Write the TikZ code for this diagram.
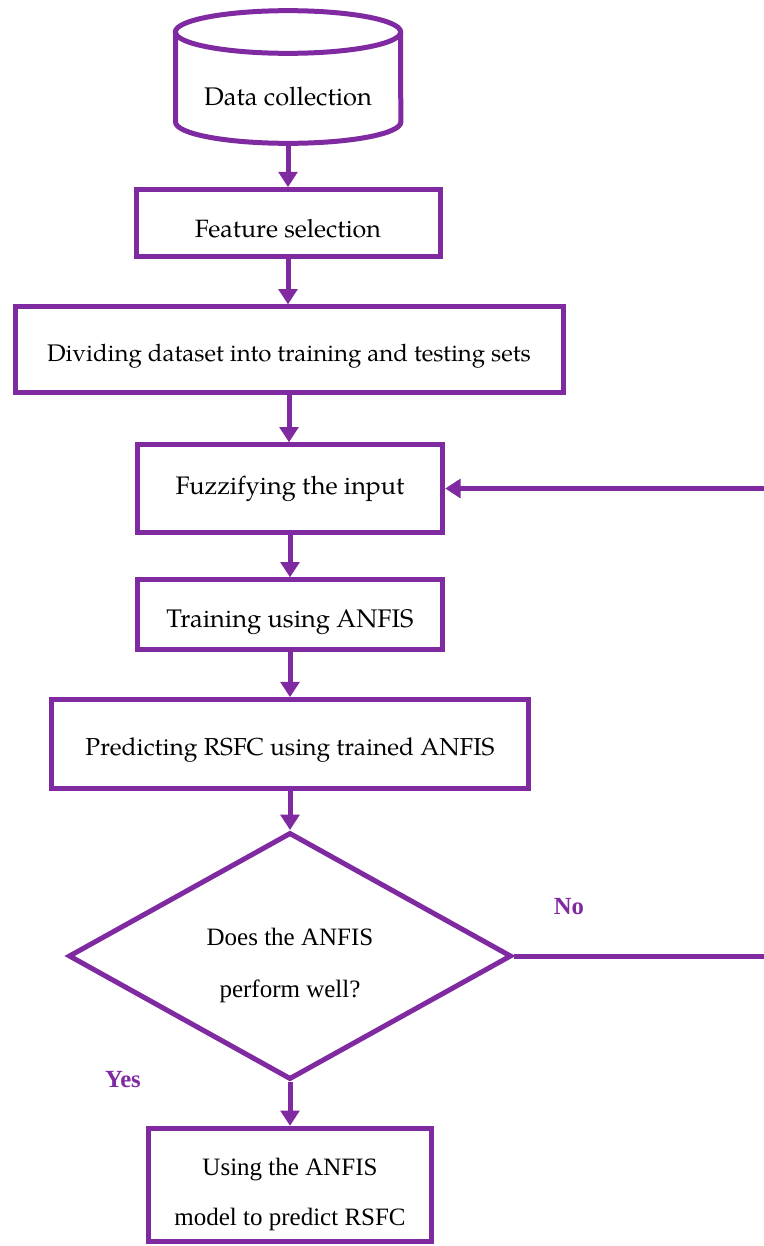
\documentclass[tikz,border=0pt]{standalone}
\usepackage{fontspec}
\setmainfont{TeX Gyre Pagella}
\newfontfamily\timesf{Liberation Serif}
\usetikzlibrary{arrows.meta,shapes.geometric}
\definecolor{pur}{HTML}{7F2AA1}
\newcommand{\dn}[2]{\raisebox{-#1}[\height][\depth]{#2}}
\newcommand{\twolines}[3]{\raisebox{-6.75pt}[\height][\depth]{\begin{tabular}{@{}c@{}}#1\\[#3]#2\end{tabular}}}
\begin{document}
\begin{tikzpicture}[x=0.75pt,y=-0.75pt,
  box/.style={draw=pur, line width=3.75pt, rectangle, inner sep=0pt, text=black},
  conn/.style={draw=pur, line width=3.75pt, -{Triangle[width=14pt,length=11.5pt]}},
  plain/.style={draw=pur, line width=3.75pt},
  lbl/.style={text=pur, font=\timesf\bfseries\fontsize{18.5}{22}\selectfont}]
\useasboundingbox (0,0) rectangle (764,1246);
\clip (0,0) rectangle (764,1246);

% cylinder
\draw[plain] (288,32) ellipse [x radius=84.5pt, y radius=16pt];
\draw[plain] (175.5,32) -- (175.5,122) arc[start angle=180, end angle=360, x radius=84.5pt, y radius=16pt] -- (400.5,32);
\node[text=black, font=\fontsize{19.1}{22}\selectfont] (data) at (288,97) {Data collection};
\coordinate (dbot) at (288,143.5);

\node[box, font=\fontsize{18.8}{22}\selectfont, minimum width=228pt, minimum height=50pt] (feat) at (288,223) {\dn{4pt}{Feature selection}};
\node[box, font=\fontsize{18}{22}\selectfont, minimum width=411pt, minimum height=64pt] (div) at (289,349.5) {\dn{5pt}{Dividing dataset into training and testing sets}};
\node[box, font=\fontsize{19}{22}\selectfont, minimum width=229pt, minimum height=65.5pt] (fuzz) at (290,488.5) {Fuzzifying the input};
\node[box, font=\fontsize{19.1}{22}\selectfont, minimum width=229pt, minimum height=52pt] (train) at (290,614.5) {\dn{5.5pt}{Training using ANFIS}};
\node[box, font=\fontsize{18.4}{22}\selectfont, minimum width=358pt, minimum height=66.5pt] (pred) at (290,744) {\dn{4.5pt}{Predicting RSFC using trained ANFIS}};
\node[diamond, draw=pur, line width=3.75pt, inner sep=0pt, minimum width=332.25pt, minimum height=185.25pt,
  shape aspect=1.79, text=black, font=\timesf\fontsize{18.75}{22.5}\selectfont] (dec) at (290,956)
  {\twolines{Does the ANFIS}{perform well?}{16.5pt}};
\node[box, minimum width=212pt, minimum height=85pt, font=\timesf\fontsize{18.75}{22.5}\selectfont]
  (final) at (290,1185) {\twolines{Using the ANFIS}{model to predict RSFC}{15pt}};

\node[lbl] (no) at (569,907) {No};
\node[lbl] (yes) at (123,1080) {Yes};

\draw[conn] (dbot) -- (feat.north);
\draw[conn] (feat.south) -- (feat.south |- div.north);
\draw[conn] (div.south) -- (div.south |- fuzz.north);
\draw[conn] (fuzz.south) -- (train.north);
\draw[conn] (train.south) -- (pred.north);
\draw[conn] (pred.south) -- (dec.north);
\draw[conn] (dec.south) -- (final.north);

\coordinate (re1) at (775,956);
\coordinate (re2) at (775,488.5);
\draw[conn] (dec.east) -- (re1) -- (re2) -- (fuzz.east);
\end{tikzpicture}
\end{document}
